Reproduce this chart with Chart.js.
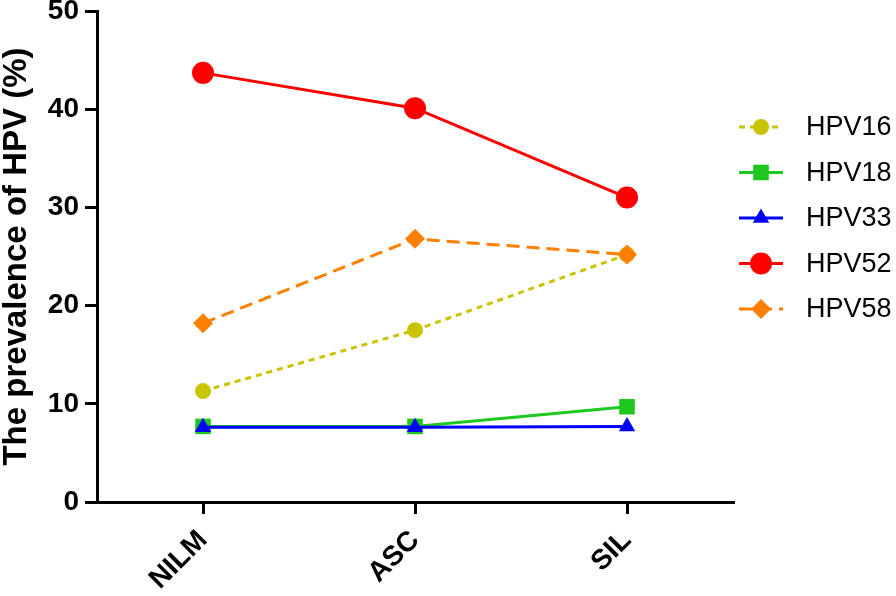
<!DOCTYPE html>
<html>
<head>
<meta charset="utf-8">
<script src="https://cdn.jsdelivr.net/npm/chart.js@4.4.0/dist/chart.umd.min.js"></script>
<style>
  html, body { margin: 0; padding: 0; background: #fff; }
  #wrap { width: 896px; height: 596px; }
</style>
</head>
<body>
<div id="wrap"><canvas id="chart-hpv"></canvas></div>
<script>
const categories = ['NILM', 'ASC', 'SIL'];
const seriesNames = ['HPV16', 'HPV18', 'HPV33', 'HPV52', 'HPV58'];
const hpv16 = [11.3, 17.5, 25.2];
const hpv18 = [7.7, 7.7, 9.7];
const hpv33 = [7.6, 7.6, 7.7];
const hpv52 = [43.7, 40.1, 31.0];
const hpv58 = [18.2, 26.8, 25.2];
const yTicks = [0, 10, 20, 30, 40, 50];

const FONT = "'Liberation Sans', Arial, sans-serif";

const styles = [
  { color: '#c8c400', dash: [6, 5], pointStyle: 'circle', radius: 8, order: 3 },
  { color: '#1ec81e', dash: [], pointStyle: 'rect', radius: 11, order: 2 },
  { color: '#0000ff', dash: [], pointStyle: 'triangle', radius: 9.5, order: 1 },
  { color: '#ff0000', dash: [], pointStyle: 'circle', radius: 11, order: 0 },
  { color: '#ff8000', dash: [13, 7], pointStyle: 'rectRot', radius: 10, order: 2 },
];

const datasets = [hpv16, hpv18, hpv33, hpv52, hpv58].map((vals, i) => ({
  label: seriesNames[i],
  data: vals,
  borderColor: styles[i].color,
  backgroundColor: styles[i].color,
  borderWidth: 3,
  borderDash: styles[i].dash,
  pointStyle: styles[i].pointStyle,
  pointRadius: styles[i].radius,
  pointBorderWidth: 0,
  pointBackgroundColor: styles[i].color,
  order: styles[i].order,
  tension: 0,
  clip: false,
}));

// legend with line + marker like the original figure
const sideLegend = {
  id: 'sideLegend',
  afterDraw(chart) {
    const ctx = chart.ctx;
    const x0 = 739, x1 = 783, xm = 761, xt = 806;
    const y0 = 127, dy = 45.5;
    chart.data.datasets.forEach((ds, i) => {
      const y = y0 + i * dy;
      ctx.save();
      ctx.strokeStyle = ds.borderColor;
      ctx.lineWidth = 3;
      ctx.setLineDash(ds.borderDash);
      ctx.beginPath();
      ctx.moveTo(x0, y);
      ctx.lineTo(x1, y);
      ctx.stroke();
      ctx.setLineDash([]);
      ctx.fillStyle = ds.backgroundColor;
      ctx.strokeStyle = ds.backgroundColor;
      Chart.helpers.drawPoint(ctx, { pointStyle: ds.pointStyle, radius: ds.pointRadius, rotation: 0, borderWidth: 0 }, xm, y);
      ctx.fillStyle = '#000';
      ctx.font = `27px ${FONT}`;
      ctx.textBaseline = 'middle';
      ctx.textAlign = 'left';
      ctx.fillText(ds.label, xt, y + 1);
      ctx.restore();
    });
  }
};

new Chart(document.getElementById('chart-hpv'), {
  type: 'line',
  data: { labels: categories, datasets },
  options: {
    responsive: true,
    maintainAspectRatio: false,
    animation: false,
    layout: { padding: { left: 0, right: 163, top: 11, bottom: 0 } },
    plugins: {
      legend: { display: false },
      tooltip: { enabled: false },
    },
    scales: {
      x: {
        type: 'category',
        offset: true,
        grid: { display: true, drawOnChartArea: false, offset: false, color: '#000', lineWidth: 3, tickLength: 12 },
        border: { display: true, color: '#000', width: 3 },
        ticks: {
          color: '#000',
          font: { family: FONT, size: 28, weight: 'bold' },
          minRotation: 45,
          maxRotation: 45,
          padding: 10,
        },
        afterFit: s => { s.height = 94; s.paddingLeft = 0; s.paddingRight = 0; },
      },
      y: {
        min: 0,
        max: 50,
        afterBuildTicks: s => { s.ticks = yTicks.map(v => ({ value: v })); },
        grid: { display: true, drawOnChartArea: false, color: '#000', lineWidth: 3, tickLength: 12 },
        border: { display: true, color: '#000', width: 3 },
        ticks: {
          color: '#000',
          font: { family: FONT, size: 28, weight: 'bold' },
          padding: 6,
        },
        title: {
          display: true,
          text: 'The prevalence of HPV (%)',
          color: '#000',
          font: { family: FONT, size: 33, weight: 'bold', lineHeight: 1 },
          padding: { top: 0, bottom: 0 },
        },
        afterFit: s => { s.width = 97; s.paddingTop = 0; s.paddingBottom = 0; },
      },
    },
  },
  plugins: [sideLegend],
});
</script>
</body>
</html>
